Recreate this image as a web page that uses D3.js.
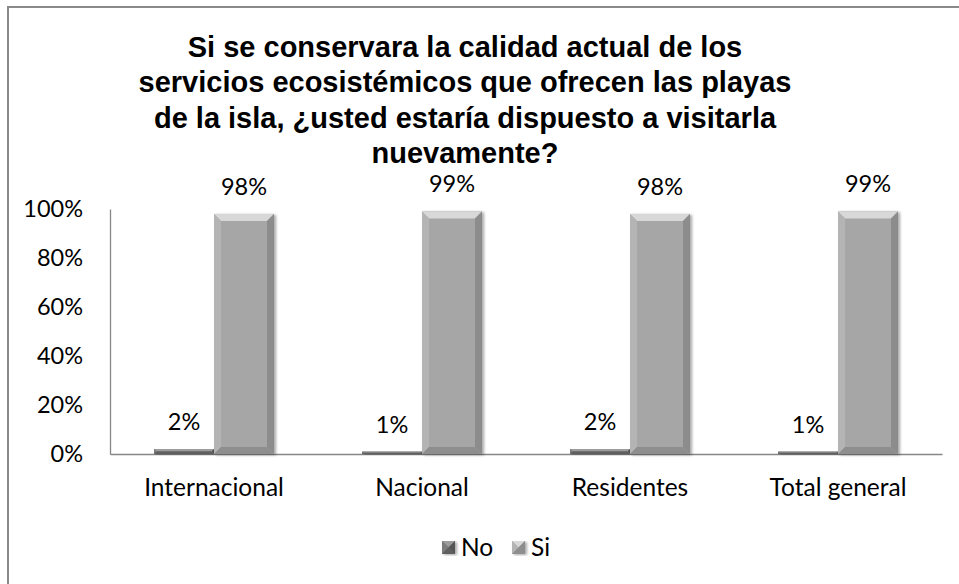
<!DOCTYPE html>
<html>
<head>
<meta charset="utf-8">
<script src="https://cdn.jsdelivr.net/npm/d3@7"></script>
<style>
  html, body { margin: 0; padding: 0; background: #fff; }
  svg { display: block; }
</style>
</head>
<body>
<svg id="chart" width="959" height="584"></svg>
<script>
const titleLines = [
  "Si se conservara la calidad actual de los",
  "servicios ecosistémicos que ofrecen las playas",
  "de la isla, ¿usted estaría dispuesto a visitarla",
  "nuevamente?"
];
const categories = ["Internacional", "Nacional", "Residentes", "Total general"];
const seriesNames = ["No", "Si"];
const noValues = [0.02, 0.01, 0.02, 0.01];
const siValues = [0.98, 0.99, 0.98, 0.99];
const noLabels = ["2%", "1%", "2%", "1%"];
const siLabels = ["98%", "99%", "98%", "99%"];
const yTicks = [0, 0.2, 0.4, 0.6, 0.8, 1.0];

const svg = d3.select("#chart");
const W = 959, H = 584;
const labelFont = "Lato, 'Open Sans', sans-serif";

svg.append("rect").attr("width", W).attr("height", H).attr("fill", "#fff");
// outer chart border
svg.append("rect").attr("x", 8).attr("y", 7).attr("width", 980).attr("height", 600)
  .attr("fill", "none").attr("stroke", "#8a8a8a").attr("stroke-width", 2);

const defs = svg.append("defs");
const f = defs.append("filter").attr("id", "shadow").attr("x", "-20%").attr("y", "-5%").attr("width", "150%").attr("height", "115%");
f.append("feGaussianBlur").attr("in", "SourceAlpha").attr("stdDeviation", 1.5);
f.append("feOffset").attr("dx", 2).attr("dy", 1).attr("result", "ob");
f.append("feComponentTransfer").append("feFuncA").attr("type", "linear").attr("slope", 0.35);
const m = f.append("feMerge");
m.append("feMergeNode");
m.append("feMergeNode").attr("in", "SourceGraphic");

// title
const title = svg.append("text").attr("x", 465).attr("y", 57)
  .attr("text-anchor", "middle")
  .attr("font-family", "'Liberation Sans', Arial, sans-serif")
  .attr("font-weight", "bold").attr("font-size", 29).attr("fill", "#000");
titleLines.forEach((l, i) => {
  title.append("tspan").attr("x", 465).attr("y", 57 + i * 35.3).text(l);
});

const x0 = d3.scaleBand().domain(categories).range([110, 942]);
const x1 = d3.scaleBand().domain(seriesNames).range([-60, 60]);
const y = d3.scaleLinear().domain([0, 1]).range([454, 209]);

// y axis
const yAxis = d3.axisLeft(y).tickValues(yTicks).tickSize(0).tickPadding(27)
  .tickFormat(d3.format(".0%"));
const gy = svg.append("g").attr("transform", "translate(110,0)").call(yAxis);
gy.select(".domain").attr("stroke", "#868686").attr("stroke-width", 1.3);
gy.selectAll("text").attr("font-family", labelFont).attr("font-size", 23.5).attr("fill", "#000");

// x axis
const xAxis = d3.axisBottom(x0).tickSize(0).tickPadding(25);
const gx = svg.append("g").attr("transform", "translate(0,454)").call(xAxis);
gx.select(".domain").attr("stroke", "#868686").attr("stroke-width", 1.3);
gx.selectAll("text").attr("font-family", labelFont).attr("font-size", 24.5).attr("fill", "#000");

const palettes = {
  No: { base: "#6f6f6f", top: "#9c9c9c", left: "#7c7c7c", right: "#555555", bottom: "#5e5e5e" },
  Si: { base: "#a6a6a6", top: "#d8d8d8", left: "#b4b4b4", right: "#8c8c8c", bottom: "#8e8e8e" }
};

function drawBar(g, bx, by, bw, bh, pal) {
  const b = Math.min(7, bh / 2, bw / 2);
  const grp = g.append("g").attr("filter", "url(#shadow)");
  grp.append("rect").attr("x", bx).attr("y", by).attr("width", bw).attr("height", bh).attr("fill", pal.base);
  const x2 = bx + bw, y2 = by + bh;
  const poly = (pts, c) => grp.append("polygon").attr("points", pts.map(p => p.join(",")).join(" ")).attr("fill", c);
  poly([[bx, by], [x2, by], [x2 - b, by + b], [bx + b, by + b]], pal.top);
  poly([[bx, by], [bx + b, by + b], [bx + b, y2 - b], [bx, y2]], pal.left);
  poly([[x2, by], [x2, y2], [x2 - b, y2 - b], [x2 - b, by + b]], pal.right);
  poly([[bx, y2], [bx + b, y2 - b], [x2 - b, y2 - b], [x2, y2]], pal.bottom);
}

const barsG = svg.append("g");
const labelsG = svg.append("g");
categories.forEach((c, i) => {
  const cx = x0(c) + x0.bandwidth() / 2;
  const vals = { No: noValues[i], Si: siValues[i] };
  const labs = { No: noLabels[i], Si: siLabels[i] };
  seriesNames.forEach(s => {
    const bx = cx + x1(s);
    const bw = x1.bandwidth();
    const top = y(vals[s]);
    drawBar(barsG, bx, top, bw, y(0) - top, palettes[s]);
    labelsG.append("text").attr("x", bx + bw / 2).attr("y", top - 19)
      .attr("text-anchor", "middle").attr("font-family", labelFont).attr("font-size", 23.5)
      .attr("fill", "#000").text(labs[s]);
  });
});

// legend
const legend = svg.append("g");
const legendX = [442, 512];
seriesNames.forEach((s, i) => {
  const lx = legendX[i];
  drawBar(legend, lx, 541, 13, 13, palettes[s]);
  legend.append("text").attr("x", lx + 19).attr("y", 556)
    .attr("font-family", labelFont).attr("font-size", 24.5).attr("fill", "#000").text(s);
});
</script>
</body>
</html>
